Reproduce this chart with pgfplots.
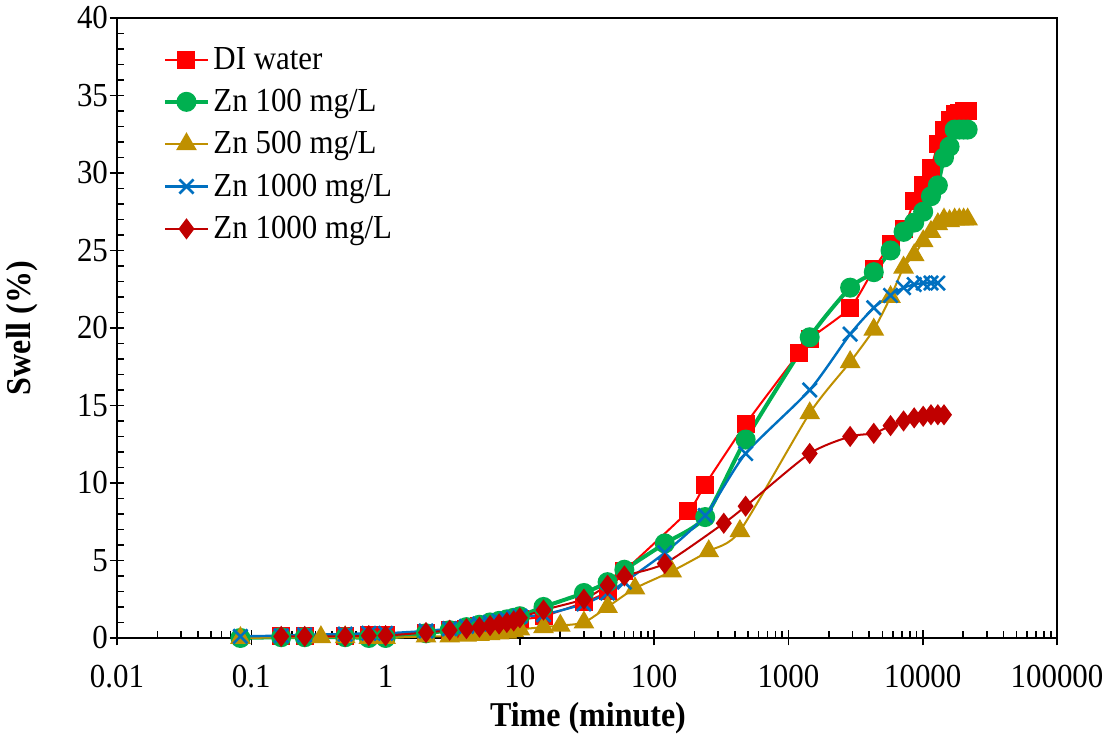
\documentclass[border=0pt]{standalone}
\usepackage{fontspec}
\setmainfont{Liberation Serif}[FakeStretch=0.92]
\usepackage{pgfplots}
\pgfplotsset{compat=1.18}

\definecolor{diRed}{HTML}{FF0000}
\definecolor{znGreen}{HTML}{00B050}
\definecolor{znGold}{HTML}{BF9000}
\definecolor{znBlue}{HTML}{0070C0}
\definecolor{znDark}{HTML}{C00000}

\begin{document}
\begin{tikzpicture}
\begin{semilogxaxis}[
    scale only axis, width=470pt, height=310pt,
    xmin=0.01, xmax=100000, ymin=0, ymax=40,
    font=\fontsize{16.8}{19}\selectfont,
    xtick={0.01,0.1,1,10,100,1000,10000,100000},
    xticklabels={0.01,0.1,1,10,100,1000,10000,100000},
    ytick distance=5, minor y tick num=4,
    tick pos=left, tick align=inside,
    major tick length=7.5pt, minor tick length=3.5pt,
    major x tick style={yshift=-3.75pt},
    major y tick style={xshift=-3.75pt},
    tick style={black, line width=0.8pt},
    axis line style={line width=0.8pt},
    xticklabel style={yshift=-10pt},
    yticklabel style={xshift=-1pt},
    /pgf/number format/assume math mode=true,
    xlabel={\textbf{Time (minute)}}, ylabel={\textbf{Swell (\%)}},
    every axis x label/.style={at={(rel axis cs:0.501,-0.129)}, anchor=center, font=\fontsize{17.4}{20}\selectfont},
    every axis y label/.style={at={(rel axis cs:-0.101,0.5)}, anchor=center, rotate=90, font=\fontsize{17.4}{20}\selectfont},
    clip=false,
    legend cell align=left,
    legend style={draw=none, fill=none, at={(rel axis cs:0.049,0.96)}, anchor=north west,
        row sep=4.5pt, inner sep=0pt, font=\fontsize{16.8}{19}\selectfont},
    legend image code/.code={\draw[mark repeat=2,mark phase=2] plot coordinates {(0pt,0pt)(10.5pt,0pt)(21pt,0pt)};},
    every axis plot/.append style={smooth, tension=0.4},
]
\addplot[diRed, line width=1pt, mark=square*, mark size=4pt, mark options={solid}] coordinates {
(0.167,0.1) (0.25,0.1) (0.5,0.15) (0.75,0.2) (1,0.2) (2,0.35) (3,0.5) (4,0.6) (5,0.75) (6,0.85) (7,0.95) (8,1.05) (9,1.15) (10,1.2)
(15,1.4) (30,2.3) (45,3.0) (60,4.3) (180,8.2) (240,9.9) (480,13.8) (1200,18.4) (1440,19.3) (2880,21.3) (4320,23.8) (5760,25.4)
(7200,26.4) (8640,28.2) (10080,29.2) (11520,30.3) (12960,31.9) (14400,32.8) (15840,33.4) (17280,33.8) (18720,33.9) (20160,34.0) (21600,34.0)};
\addlegendentry{DI water}
\addplot[znGreen, line width=2pt, mark=*, mark size=4pt] coordinates {
(0.083,0.0) (0.167,0.05) (0.25,0.05) (0.5,0.05) (0.75,0.0) (1,0.0) (2,0.3) (3,0.5) (4,0.7) (5,0.85) (6,1.0) (7,1.1) (8,1.2) (9,1.3) (10,1.4)
(15,2.0) (30,2.9) (45,3.6) (60,4.4) (120,6.1) (240,7.8) (480,12.8) (1440,19.4) (2880,22.6) (4320,23.6) (5760,25.0) (7200,26.2)
(8640,26.8) (10080,27.5) (11520,28.5) (12960,29.2) (14400,31.0) (15840,31.7) (17280,32.8) (18720,32.8) (20160,32.8) (21600,32.8)};
\addlegendentry{Zn 100 mg/L}
\addplot[znGold, line width=1pt, mark=triangle*, mark size=5pt] coordinates {
(0.083,0.0) (0.33,0.05) (0.5,0.05) (0.75,0.0) (1,0.0) (2,0.1) (3,0.1) (4,0.15) (5,0.2) (6,0.25) (7,0.3) (8,0.35) (9,0.45) (10,0.55)
(15,0.7) (20,0.8) (30,1.0) (45,2.0) (72,3.2) (135,4.3) (255,5.6) (435,6.9) (1440,14.5) (2880,17.8) (4320,19.9) (5760,22.0)
(7200,23.9) (8640,24.7) (10080,25.6) (11520,26.2) (12960,26.7) (14400,27.0) (15840,26.9) (17280,27.0) (18720,27.0) (20160,27.0) (21600,27.0)};
\addlegendentry{Zn 500 mg/L}
\addplot[znBlue, line width=1.2pt, mark=x, mark size=5pt, mark options={line width=1.3pt}] coordinates {
(0.083,0.1) (0.167,0.15) (0.25,0.2) (0.5,0.25) (0.75,0.3) (1,0.3) (2,0.45) (3,0.6) (4,0.75) (5,0.9) (6,1.0) (7,1.1) (8,1.2) (9,1.3) (10,1.4)
(15,1.5) (30,2.2) (45,2.9) (60,3.6) (120,5.5) (240,7.9) (480,11.9) (1440,16.0) (2880,19.6) (4320,21.3) (5760,22.1) (7200,22.6)
(8640,22.8) (10080,22.9) (11520,22.9) (12960,22.9)};
\addlegendentry{Zn 1000 mg/L}
\addplot[znDark, line width=1pt, mark=diamond*, mark size=4.5pt] coordinates {
(0.167,0.1) (0.25,0.1) (0.5,0.1) (0.75,0.15) (1,0.15) (2,0.35) (3,0.5) (4,0.6) (5,0.7) (6,0.8) (7,0.9) (8,1.0) (9,1.1) (10,1.3)
(15,1.8) (30,2.5) (45,3.4) (60,4.0) (120,4.8) (330,7.4) (480,8.5) (1440,11.9) (2880,13.0) (4320,13.2) (5760,13.7) (7200,14.0)
(8640,14.2) (10080,14.3) (11520,14.4) (12960,14.4) (14400,14.4)};
\addlegendentry{Zn 1000 mg/L}
\coordinate (bbsw) at (rel axis cs:-0.1245,-0.1645);
\coordinate (bbne) at (rel axis cs:1.05,1.029);
\end{semilogxaxis}
\pgfresetboundingbox
\path (bbsw) rectangle (bbne);
\end{tikzpicture}
\end{document}
